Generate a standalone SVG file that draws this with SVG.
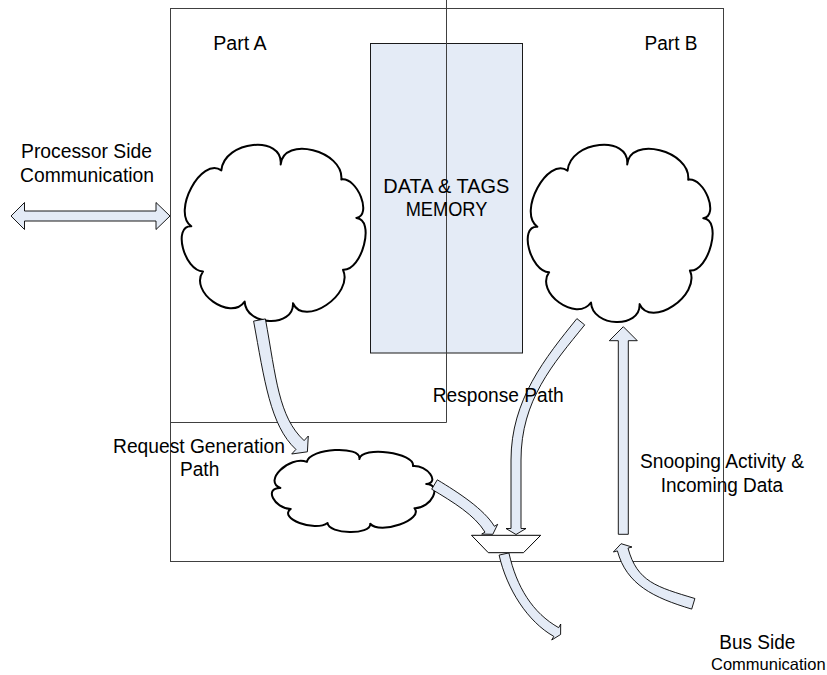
<svg xmlns="http://www.w3.org/2000/svg" xmlns:xlink="http://www.w3.org/1999/xlink" width="827" height="675" viewBox="0 0 827 675">
  <style>
    .frame { fill: none; stroke: #404040; stroke-width: 1; }
    .mem { fill: #E4EBF6; stroke: #1a1a1a; stroke-width: 1; }
    .cloud { fill: #FFFFFF; stroke: #000000; stroke-width: 2; vector-effect: non-scaling-stroke; stroke-linejoin: round; }
    .arrow { fill: #E4EBF6; stroke: #000000; stroke-width: 0.9; stroke-linejoin: miter; }
    .mux { fill: #FFFFFF; stroke: #000000; stroke-width: 1; }
    .lbl { font-family: "Liberation Sans", Arial, sans-serif; font-size: 20px; fill: #000000; }
    .lbl-edge { font-size: 16.5px; }
  </style>
  <defs>
    <!-- nine-lobed cloud outline in a 100 x 100 box -->
    <path id="cloudShape" class="cloud" d="M21.18,14.45 C22.69,-2.54 55.47,-5.96 53.96,11.03 C55.40,-5.38 88.92,3.17 87.48,19.58 C96.39,18.23 104.67,40.09 95.76,41.44 C106.32,42.13 98.96,71.60 88.40,70.91 C94.55,84.88 66.92,103.89 60.77,89.92 C61.41,103.99 34.71,103.04 34.07,88.97 C26.12,100.41 3.10,83.30 11.05,71.86 C0.61,71.29 -5.84,45.63 4.60,46.20 C-6.45,38.16 10.13,6.41 21.18,14.45 Z"/>
  </defs>

  <rect width="827" height="675" fill="#FFFFFF"/>

  <!-- outer controller frame -->
  <g id="controller">
    <rect class="frame" x="170.5" y="8.5" width="553" height="553"/>
  </g>

  <!-- shared data and tag array -->
  <g id="data-tags-memory">
    <rect class="mem" x="370.5" y="43.5" width="152" height="309.5"/>
  </g>

  <!-- Part A region boundary -->
  <g id="part-a">
    <path class="frame" d="M446.5,0 L446.5,422.5 L170,422.5"/>
  </g>

  <g id="logic-a">
    <use xlink:href="#cloudShape" transform="translate(183,145) scale(1.81,1.76)"/>
  </g>
  <g id="logic-b">
    <use xlink:href="#cloudShape" transform="translate(529,145) scale(1.82,1.77)"/>
  </g>
  <g id="request-logic">
    <use xlink:href="#cloudShape" transform="translate(273,450) scale(1.60,0.82)"/>
  </g>

  <g id="connectors">
    <!-- processor side, bidirectional -->
    <path class="arrow" d="M11,216 L24.5,202.5 L24.5,211 L156,211 L156,202.5 L170,216 L156,229.5 L156,221 L24.5,221 L24.5,229.5 Z"/>
    <!-- request generation path -->
    <path class="arrow" d="M253.6,321.1 C264.4,379.9 270.2,425.7 295.9,449.4 L291.7,454 L307.4,451.8 L308.3,436 L304.1,440.6 C278.4,416.9 276.2,377.7 265.4,318.9 Z"/>
    <!-- response path -->
    <path class="arrow" d="M576.9,318.6 C545.4,357.6 511,400 511,460 L511,528.5 L506,528.5 L516,534.5 L526,528.5 L521,528.5 L521,460 C521,400 553.2,363.9 584.7,324.9 Z"/>
    <!-- request logic to selector -->
    <path class="arrow" d="M431.7,489.2 C453.1,502.1 474.6,515.0 485.0,532.1 L481.7,534.1 L492.8,534.3 L497.7,524.3 L494.4,526.3 C484.0,509.2 458.7,492.7 437.3,479.8 Z"/>
    <!-- snooping activity and incoming data -->
    <path class="arrow" d="M618.3,534.3 L618.3,340.7 L609.3,340.7 L623.3,326.7 L637.3,340.7 L628.3,340.7 L628.3,534.3 Z"/>
    <!-- selector output to bus -->
    <path class="arrow" d="M499.1,555.1 C506.8,589.2 527.7,621.7 553.8,636.4 L551.7,640 L560.6,634.5 L560.7,624 L558.7,627.7 C532.5,612.9 516.6,587.0 508.9,552.9 Z"/>
    <!-- bus side input -->
    <path class="arrow" d="M694.9,598.5 C656.6,587.0 637.1,581.8 628.0,548.1 L632,547 L621.1,543.7 L613.4,552 L617.4,550.9 C626.5,584.6 653.4,597.6 691.7,609.1 Z"/>
  </g>

  <!-- output selector -->
  <g id="selector">
    <path class="mux" d="M471.5,535.3 L540.7,535.3 L523.5,552.7 L488.3,552.7 Z"/>
  </g>

  <g id="labels">
    <text class="lbl" x="213.3" y="50" textLength="53.4" lengthAdjust="spacingAndGlyphs">Part A</text>
    <text class="lbl" x="644.5" y="50" textLength="53" lengthAdjust="spacingAndGlyphs">Part B</text>
    <text class="lbl" x="383.3" y="193.3" textLength="126" lengthAdjust="spacingAndGlyphs">DATA &amp; TAGS</text>
    <text class="lbl" x="405.7" y="216" textLength="81.6" lengthAdjust="spacingAndGlyphs">MEMORY</text>
    <text class="lbl" x="21" y="158.3" textLength="131" lengthAdjust="spacingAndGlyphs">Processor Side</text>
    <text class="lbl" x="20" y="181.7" textLength="134" lengthAdjust="spacingAndGlyphs">Communication</text>
    <text class="lbl" x="432.7" y="401.7" textLength="131" lengthAdjust="spacingAndGlyphs">Response Path</text>
    <text class="lbl" x="113" y="452.7" textLength="172" lengthAdjust="spacingAndGlyphs">Request Generation</text>
    <text class="lbl" x="180" y="475.7" textLength="39.3" lengthAdjust="spacingAndGlyphs">Path</text>
    <text class="lbl" x="640" y="468.3" textLength="164" lengthAdjust="spacingAndGlyphs">Snooping Activity &amp;</text>
    <text class="lbl" x="660.7" y="491.7" textLength="122.5" lengthAdjust="spacingAndGlyphs">Incoming Data</text>
    <text class="lbl" x="719.3" y="649.3" textLength="76" lengthAdjust="spacingAndGlyphs">Bus Side</text>
    <text class="lbl lbl-edge" x="711" y="670">Communication</text>
  </g>
</svg>
